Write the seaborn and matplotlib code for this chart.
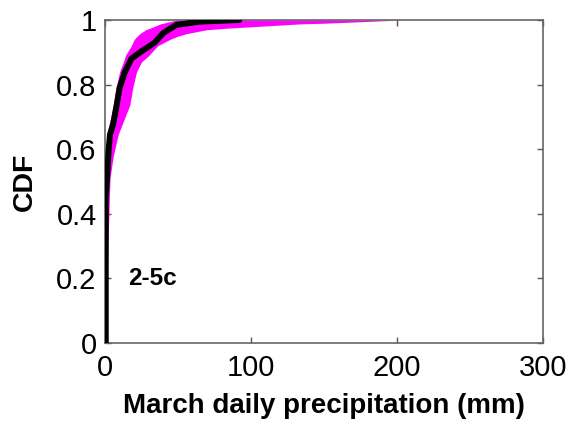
import numpy as np
import pandas as pd
import matplotlib
matplotlib.use("Agg")
import matplotlib.pyplot as plt
import seaborn as sns

# data
obs_mm = [0.5, 0.5, 1.4, 2.5, 3.4, 5.7, 8, 10, 13.7, 17, 18, 24, 34, 40, 49, 65, 92]
obs_cdf = [0, 0.45, 0.51, 0.6, 0.645, 0.68, 0.737, 0.79, 0.84, 0.87, 0.88, 0.90, 0.93, 0.96, 0.985, 0.995, 1.0]

band_cdf = [0, 0.51, 0.58, 0.645, 0.68, 0.737, 0.79, 0.84, 0.87, 0.89, 0.92, 0.94, 0.95, 0.958, 0.97, 0.975, 0.988, 0.99, 1.0]
band_lo = [0, 0, 0.5, 1.3, 3, 5.7, 7.5, 10, 12.6, 14, 18, 20, 22, 24, 28, 31, 38, 40, 49]
band_hi = [0, 3.4, 5.7, 9, 12, 17, 19, 21.6, 25, 30, 36, 44.5, 50, 56, 70, 85, 134, 150, 204]

x_ticks = [0, 100, 200, 300]
y_ticks = [0, 0.2, 0.4, 0.6, 0.8, 1]
y_labels = ["0", "0.2", "0.4", "0.6", "0.8", "1"]

sns.set_theme(style="ticks")
plt.rcParams['font.family'] = ['Liberation Sans', 'DejaVu Sans']
plt.rcParams['text.color'] = 'black'
plt.rcParams['axes.labelcolor'] = 'black'

fig = plt.figure(figsize=(5.72, 4.28), dpi=100)
ax = fig.add_axes([0.1836, 0.1986, 0.7657, 0.7547])

# spread of the ensemble
ax.fill_betweenx(band_cdf, band_lo, band_hi, color='#ff00ff', linewidth=0, zorder=1)

obs = pd.DataFrame({'mm': obs_mm, 'cdf': obs_cdf})
sns.lineplot(data=obs, x='mm', y='cdf', sort=False, estimator=None,
             color='black', linewidth=4.3, ax=ax, zorder=3)

ax.set_xlim(0, 300)
ax.set_ylim(0, 1)
ax.set_xticks(x_ticks)
ax.set_yticks(y_ticks)
ax.set_yticklabels(y_labels)
ax.tick_params(direction='in', length=4, width=1, color='#555555',
               labelsize=21, top=True, right=True, labelcolor='black')
ax.tick_params(axis='x', pad=8)
ax.tick_params(axis='y', pad=6)
for s in ax.spines.values():
    s.set_color('#666666')
    s.set_linewidth(1.2)

ax.set_xlabel('March daily precipitation (mm)', fontsize=20, fontweight='bold', labelpad=8)
ax.set_ylabel('CDF', fontsize=20.5, fontweight='bold', labelpad=13)
ax.text(16, 0.2, '2-5c', fontsize=17.5, fontweight='bold', va='center', ha='left')

fig.savefig('out.png', dpi=100)
